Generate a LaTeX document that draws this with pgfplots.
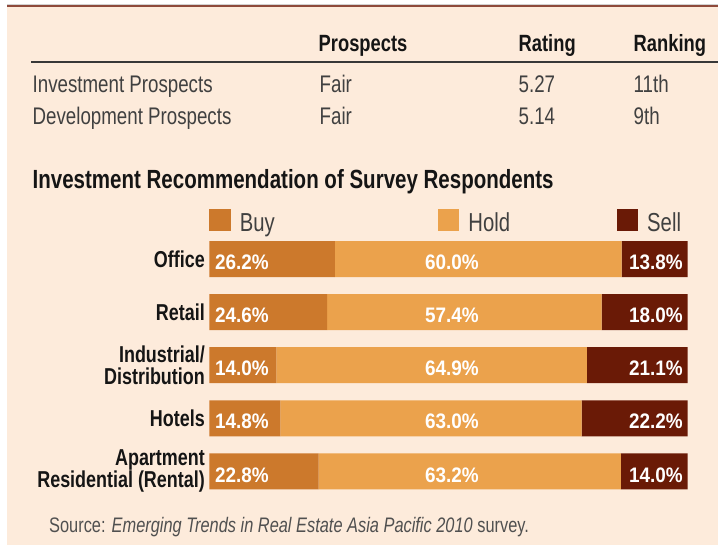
\documentclass[border=0pt]{standalone}
\usepackage{pgfplots}
\pgfplotsset{compat=1.18}
\usepackage{pgfplotstable}
\usepackage{fontspec}
\setmainfont{Liberation Sans}[FakeStretch=0.78]
\newfontfamily\pctfont{Liberation Sans}[FakeStretch=0.9]
\definecolor{bg}{HTML}{FDEBDB}
\definecolor{buyc}{HTML}{CC792C}
\definecolor{holdc}{HTML}{EBA24C}
\definecolor{sellc}{HTML}{6A1A06}
\definecolor{rulec}{HTML}{8E4A3B}
\definecolor{bodytxt}{HTML}{404040}
\definecolor{hdr}{HTML}{151515}
\definecolor{srctxt}{HTML}{505050}

\pgfplotstableread{
idx buy hold sell
0 26.2 60.0 13.8
1 24.6 57.4 18.0
2 14.0 64.9 21.1
3 14.8 63.0 22.2
4 22.8 63.2 14.0
}\data

\begin{document}
\begin{tikzpicture}
\useasboundingbox (0pt,0pt) rectangle (718pt,-545pt);
\fill[white] (0pt,0pt) rectangle (718pt,-545pt);
\fill[bg] (7pt,-4pt) rectangle (718pt,-545pt);
\fill[gray!35] (7pt,-4.2pt) rectangle (718pt,-5pt);
\fill[rulec] (7pt,-5pt) rectangle (718pt,-7.3pt);
\fill[hdr!85] (31pt,-61pt) rectangle (718pt,-63pt);

\begin{scope}[every node/.style={inner sep=0pt, anchor=base west}]
\node[font=\fontsize{23.5}{24}\selectfont\bfseries, text=hdr] at (318.5pt,-51.5pt) {Prospects};
\node[font=\fontsize{23.5}{24}\selectfont\bfseries, text=hdr] at (518.5pt,-51.5pt) {Rating};
\node[font=\fontsize{23.5}{24}\selectfont\bfseries, text=hdr] at (633.5pt,-51.5pt) {Ranking};
\node[font=\fontsize{24}{24}\selectfont, text=bodytxt] at (32.5pt,-92.7pt) {Investment Prospects};
\node[font=\fontsize{24}{24}\selectfont, text=bodytxt] at (319.5pt,-92.7pt) {Fair};
\node[font=\fontsize{24}{24}\selectfont, text=bodytxt] at (518.5pt,-92.7pt) {5.27};
\node[font=\fontsize{24}{24}\selectfont, text=bodytxt] at (633.5pt,-92.7pt) {11th};
\node[font=\fontsize{24}{24}\selectfont, text=bodytxt] at (32.5pt,-125pt) {Development Prospects};
\node[font=\fontsize{24}{24}\selectfont, text=bodytxt] at (319.5pt,-125pt) {Fair};
\node[font=\fontsize{24}{24}\selectfont, text=bodytxt] at (518.5pt,-125pt) {5.14};
\node[font=\fontsize{24}{24}\selectfont, text=bodytxt] at (633.5pt,-125pt) {9th};
\node[font=\fontsize{26.3}{26.3}\selectfont\bfseries, text=hdr] at (32.5pt,-188.3pt) {Investment Recommendation of Survey Respondents};
\node[font=\fontsize{21}{21}\selectfont, text=srctxt] at (49pt,-532.3pt) {Source: \textit{Emerging Trends in Real Estate Asia Pacific 2010} survey.};
\end{scope}

\begin{axis}[
  at={(209.5pt,-232.45pt)}, anchor=north west,
  scale only axis, width=478.2pt, height=265.5pt,
  xbar stacked, bar width=36pt,
  xmin=0, xmax=100, ymin=-0.5, ymax=4.5, y dir=reverse,
  axis line style={draw=none}, tick style={draw=none},
  xtick=\empty, ytick={0,1,2,3,4},
  yticklabels={Office, Retail, {Industrial/\\Distribution}, Hotels, {Apartment\\Residential (Rental)}},
  yticklabel style={align=right, font=\fontsize{23}{22}\selectfont\bfseries, text=hdr, inner sep=0pt, xshift=-4.5pt},
  legend style={at={(0,1)}, anchor=south west, yshift=-2.2pt, draw=none, fill=none,
    inner sep=0pt, outer sep=0pt, legend columns=3,
    /tikz/every even column/.style={column sep=0pt},
    font=\fontsize{26}{26}\selectfont, text=bodytxt,
    cells={anchor=base west, inner sep=0pt}},
  legend image code/.code={\fill[#1] (0pt,0pt) rectangle (21pt,22pt);},
]
\addplot[fill=buyc, draw=none] table[x=buy, y=idx] {\data};
\addlegendentry{\makebox[203.7pt][l]{\hspace{7.3pt}Buy}}
\addplot[fill=holdc, draw=none] table[x=hold, y=idx] {\data};
\addlegendentry{\makebox[153.7pt][l]{\hspace{7.3pt}Hold}}
\addplot[fill=sellc, draw=none] table[x=sell, y=idx] {\data};
\addlegendentry{\hspace{7.3pt}Sell}
\end{axis}

\begin{axis}[
  at={(209.5pt,-232.45pt)}, anchor=north west,
  scale only axis, width=478.2pt, height=265.5pt,
  xmin=0, xmax=100, ymin=-0.5, ymax=4.5, y dir=reverse,
  hide axis, clip=false,
  /pgf/number format/assume math mode=true,
  nodes near coords={\pgfmathprintnumber[fixed, fixed zerofill, precision=1, assume math mode=true]{\pgfplotspointmeta}\%},
  every node near coord/.style={font=\pctfont\fontsize{21}{21}\selectfont\bfseries, text=white, inner sep=0pt, yshift=-10.6pt},
]
\addplot[draw=none, nodes near coords align={anchor=base west}, point meta=explicit] table[x expr=1.15, y=idx, meta=buy] {\data};
\addplot[draw=none, nodes near coords align={anchor=base}, point meta=explicit] table[x expr=50.7, y=idx, meta=hold] {\data};
\addplot[draw=none, nodes near coords align={anchor=base east}, point meta=explicit] table[x expr=99.0, y=idx, meta=sell] {\data};
\end{axis}
\end{tikzpicture}
\end{document}
